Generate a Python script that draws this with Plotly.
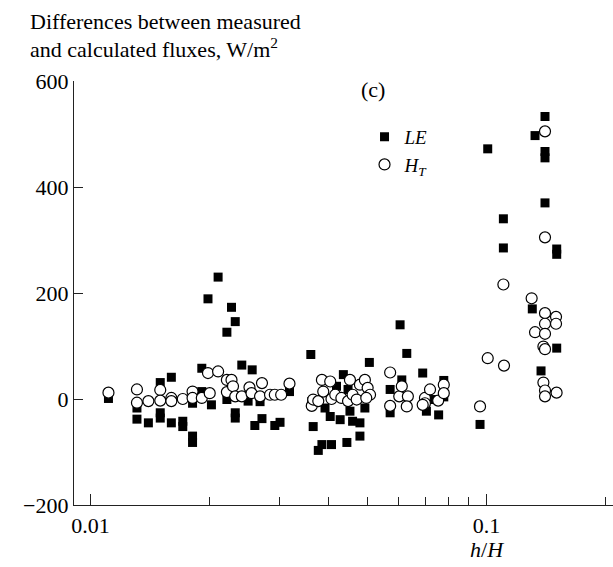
import plotly.graph_objects as go

# LE (filled squares): h/H and flux difference (W/m^2)
le_x = [0.0111, 0.0131, 0.0131, 0.0140, 0.0150, 0.0150, 0.0150, 0.0160, 0.0160,
        0.0171, 0.0171, 0.0181, 0.0181, 0.0181, 0.0191, 0.0191, 0.0198, 0.0202,
        0.0210, 0.0221, 0.0221, 0.0227, 0.0232, 0.0232, 0.0232, 0.0241, 0.0250,
        0.0256, 0.0260, 0.0268, 0.0271, 0.0292, 0.0301, 0.0318, 0.0360, 0.0362,
        0.0365, 0.0376, 0.0384, 0.0391, 0.0403, 0.0406, 0.0418, 0.0427, 0.0435,
        0.0444, 0.0447, 0.0452, 0.0459, 0.0479, 0.0479, 0.0493, 0.0506, 0.0571,
        0.0571, 0.0605, 0.0611, 0.0629, 0.0690, 0.0705, 0.0727, 0.0757, 0.0780,
        0.0780, 0.0963, 0.1007, 0.1103, 0.1103, 0.1305, 0.1326, 0.1373, 0.1405,
        0.1405, 0.1405, 0.1405, 0.1504, 0.1504, 0.1504]
le_y = [1, -17, -38, -45, 31, -26, -36, 41, -45,
        -42, -52, -8, -70, -82, 58, 14, 189, -11,
        230, 126, -1, 173, 146, -26, -36, 64, -4,
        55, -50, -5, -37, -50, -44, 14, 84, -5,
        -52, -97, -86, -17, -33, -86, 24, -39, 46,
        -82, 18, -23, -42, -45, -70, -17, 69, 18,
        -26, 140, 36, 86, 49, -23, -1, -30, 35,
        4, -48, 472, 340, 285, 170, 497, 53, 533,
        467, 455, 370, 283, 273, 96]

# H_T (open circles)
ht_x = [0.0111, 0.0131, 0.0131, 0.0140, 0.0150, 0.0150, 0.0160, 0.0160, 0.0171,
        0.0181, 0.0181, 0.0191, 0.0198, 0.0200, 0.0210, 0.0221, 0.0227, 0.0221,
        0.0229, 0.0232, 0.0241, 0.0252, 0.0255, 0.0268, 0.0271, 0.0284, 0.0292,
        0.0303, 0.0318, 0.0362, 0.0365, 0.0376, 0.0384, 0.0387, 0.0403, 0.0406,
        0.0415, 0.0430, 0.0452, 0.0447, 0.0459, 0.0470, 0.0479, 0.0493, 0.0501,
        0.0508, 0.0497, 0.0571, 0.0571, 0.0602, 0.0611, 0.0633, 0.0629, 0.0699,
        0.0699, 0.0690, 0.0720, 0.0755, 0.0780, 0.0780, 0.0963, 0.1007, 0.1103,
        0.1107, 0.1300, 0.1326, 0.1392, 0.1392, 0.1405, 0.1405, 0.1405, 0.1405,
        0.1405, 0.1405, 0.1405, 0.1405, 0.1498, 0.1498, 0.1503]
ht_y = [12, 18, -7, -4, 17, -3, 2, -4, 0,
        14, 2, 2, 49, 11, 52, 36, 36, 13,
        24, 5, 5, 22, 11, 5, 30, 8, 8,
        8, 29, -13, -1, -4, 36, 14, 33, 0,
        8, 2, 36, -4, 8, -1, 27, 36, 21,
        8, 2, 50, -13, 5, 24, 5, -14, 2,
        -8, -11, 18, -3, 27, 11, -14, 77, 216,
        63, 190, 126, 99, 31, 505, 305, 162, 142,
        123, 94, 16, 5, 155, 142, 12]

x_major = [0.01, 0.1]
x_major_text = ["0.01", "0.1"]
x_minor = [0.02, 0.03, 0.04, 0.05, 0.06, 0.07, 0.08, 0.09, 0.2]
y_ticks = [-200, 0, 200, 400, 600]

FONT = "Liberation Serif"

fig = go.Figure()
fig.add_trace(go.Scatter(
    x=le_x, y=le_y, mode="markers", name="<i>LE</i>",
    marker=dict(symbol="square", size=9, color="black", line=dict(width=0)),
))
fig.add_trace(go.Scatter(
    x=ht_x, y=ht_y, mode="markers", name="<i>H</i><sub><i>T</i></sub>",
    marker=dict(symbol="circle", size=11, color="white",
                line=dict(color="black", width=1.2)),
))

fig.update_layout(
    width=613, height=567, autosize=False,
    margin=dict(l=74, r=0, t=81, b=62, pad=0),
    paper_bgcolor="white", plot_bgcolor="white",
    font=dict(family=FONT, size=22, color="black"),
    showlegend=True,
    legend=dict(x=0.539, y=0.913, xanchor="left", yanchor="top",
                bgcolor="rgba(0,0,0,0)", font=dict(family=FONT, size=19),
                tracegroupgap=0, itemwidth=30),
    xaxis=dict(
        type="log", range=[-2.0417, -0.6806],
        tickmode="array", tickvals=x_major, ticktext=x_major_text,
        ticks="inside", ticklen=11, tickwidth=1.2, tickcolor="#222",
        minor=dict(tickmode="array", tickvals=x_minor, ticks="inside",
                   ticklen=8, tickwidth=1.2, tickcolor="#222", showgrid=False),
        showline=True, linecolor="#222", linewidth=1.4,
        showgrid=False, zeroline=False, automargin=False,
        tickfont=dict(family=FONT, size=22),
    ),
    yaxis=dict(
        range=[-200, 600], tickmode="array", tickvals=y_ticks,
        ticks="inside", ticklen=9, tickwidth=1.2, tickcolor="#222",
        showline=True, linecolor="#222", linewidth=1.4,
        showgrid=False, zeroline=False, automargin=False,
        tickfont=dict(family=FONT, size=22),
    ),
    annotations=[
        dict(text="Differences between measured",
             xref="paper", yref="paper", x=-0.085, y=1.14, xanchor="left", yanchor="middle",
             align="left", showarrow=False, font=dict(family=FONT, size=22)),
        dict(text="and calculated fluxes, W/m<sup>2</sup>",
             xref="paper", yref="paper", x=-0.085, y=1.077, xanchor="left", yanchor="middle",
             align="left", showarrow=False, font=dict(family=FONT, size=22)),
        dict(text="(c)", xref="paper", yref="paper", x=0.5547, y=0.9795,
             xanchor="center", yanchor="middle", showarrow=False,
             font=dict(family=FONT, size=22)),
        dict(text="<i>h</i>/<i>H</i>", xref="x", yref="paper", x=-1, y=-0.104,
             xanchor="center", yanchor="middle", showarrow=False,
             font=dict(family=FONT, size=22)),
    ],
)

fig.write_html("out.html", config={"responsive": False, "displayModeBar": False},
               post_script="document.body.style.margin='0';")
